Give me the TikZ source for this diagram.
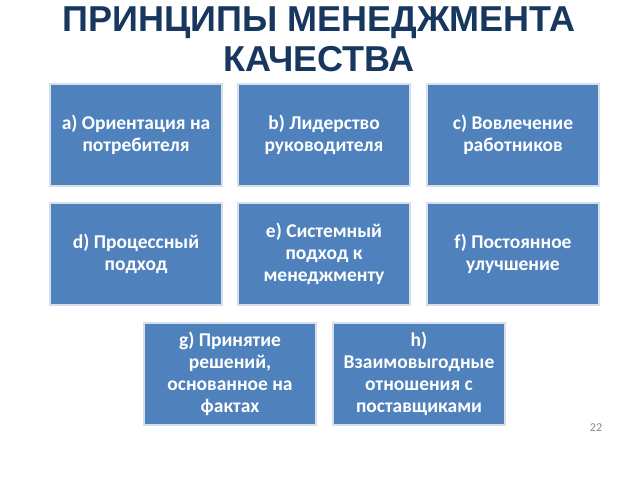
\documentclass[tikz,border=0pt]{standalone}
\usepackage{fontspec}
\setmainfont{Carlito}
\newfontfamily\titlefont{Liberation Sans}
\definecolor{qmblue}{RGB}{79,129,189}
\definecolor{qmedge}{RGB}{214,224,237}
\definecolor{qmnavy}{RGB}{23,55,94}
\definecolor{qmgray}{RGB}{137,137,137}
\usepackage{tikz}

\begin{document}
\begin{tikzpicture}[x=1pt, y=-1pt,
    principle/.style={draw=qmedge, line width=1.5pt, fill=qmblue,
        minimum width=172pt, minimum height=102pt, text width=168pt,
        align=flush center, text=white, inner sep=0pt,
        font=\fontsize{19.5}{22}\selectfont\bfseries}]
\useasboundingbox (0,0) rectangle (640,480);

% Title
\node[text=qmnavy, align=flush center, font=\titlefont\fontsize{36}{40}\selectfont\bfseries]
    (title) at (319,39) {ПРИНЦИПЫ МЕНЕДЖМЕНТА\\КАЧЕСТВА};

% Row 1
\node[principle] (customer) at (136,135) {a) Ориентация на\\потребителя};
\node[principle] (leadership) at (324,135) {b) Лидерство\\руководителя};
\node[principle] (involvement) at (513,135) {c) Вовлечение\\работников};

% Row 2
\node[principle] (process) at (136,254) {d) Процессный\\подход};
\node[principle] (system) at (324,254) {e) Системный\\подход к\\менеджменту};
\node[principle] (improvement) at (513,254) {f) Постоянное\\улучшение};

% Row 3
\node[principle] (facts) at (230,374) {g) Принятие\\решений,\\основанное на\\фактах};
\node[principle] (suppliers) at (419,374) {h)\\Взаимовыгодные\\отношения с\\поставщиками};

% Page number
\node[text=qmgray, font=\fontsize{12}{14}\selectfont] (pagenum) at (596,428) {22};
\end{tikzpicture}
\end{document}
